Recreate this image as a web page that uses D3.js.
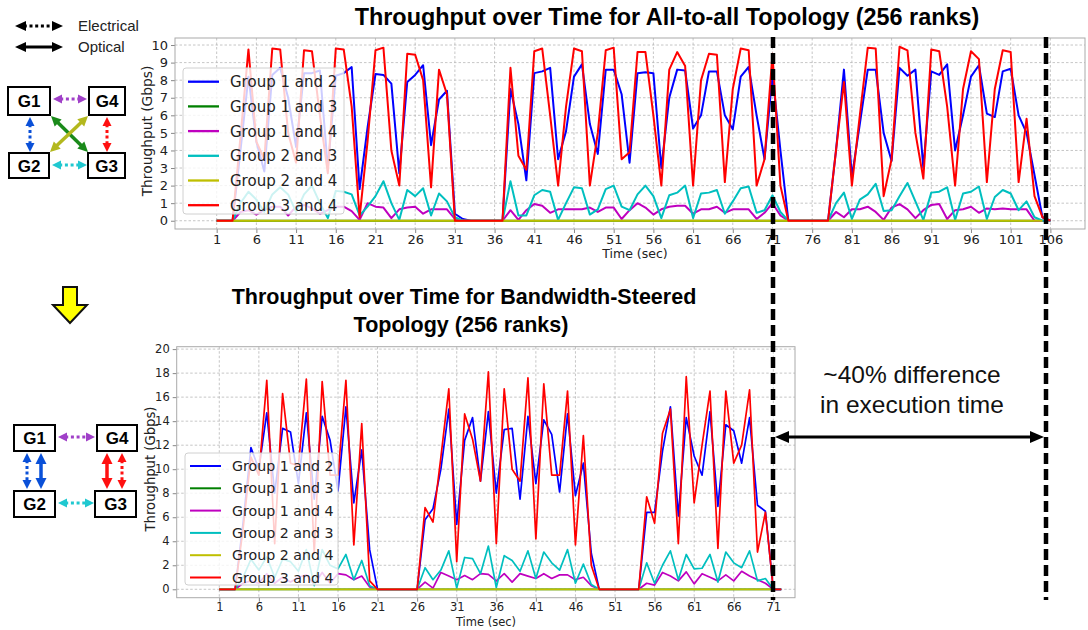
<!DOCTYPE html>
<html><head><meta charset="utf-8">
<script src="https://cdn.jsdelivr.net/npm/d3@7/dist/d3.min.js"></script>
<style>body{margin:0;background:#fff}svg{display:block}</style>
</head><body>
<svg id="c" width="1088" height="630"></svg>
<script>
// ---------------- DATA ----------------
const seriesNames = ["Group 1 and 2","Group 1 and 3","Group 1 and 4","Group 2 and 3","Group 2 and 4","Group 3 and 4"];
const seriesColors = ["#0000ff","#008000","#bf00bf","#00bfbf","#bfbf00","#ff0000"];

// Top chart (All-to-all), t = 1..106
const topG12 = [0,0,0,4.0,8.2,4.5,2.8,8.3,8.7,7.0,4.2,8.4,8.4,8.55,3.0,8.25,8.4,8.75,1.8,5.3,
8.35,8.3,7.8,2.7,7.9,8.3,8.85,4.3,6.9,7.4,0.4,0.1,0,0,0,0,0,7.5,5.5,2.3,
8.4,8.5,8.7,3.5,5.1,8.2,8.9,5.5,3.8,8.6,8.6,7.2,3.3,8.4,8.45,8.4,3.0,7.0,8.6,8.55,
5.25,6.0,8.5,8.5,6.0,5.2,8.2,8.75,6.0,3.5,8.3,4.0,0,0,0,0,0,0,4.0,8.6,
2.5,5.5,8.6,8.6,5.0,3.4,8.7,8.25,8.6,3.0,8.5,8.3,8.9,4.0,6.0,8.2,8.85,6.1,5.9,8.5,
8.65,6.0,5.0,2.6,0.2,0];
const topG13 = [0,0,0,0,0,0,0,0,0,0,0,0,0,0,0,0,0,0,0,0,0,0,0,0,0,0,0,0,0,0,0,0,0,0,0,0,0,0,0,0,
0,0,0,0,0,0,0,0,0,0,0,0,0,0,0,0,0,0,0,0,0,0,0,0,0,0,0,0,0,0,0,0,0,0,0,0,0,0,0,0,
0,0,0,0,0,0,0,0,0,0,0,0,0,0,0,0,0,0,0,0,0,0,0,0,0,0];
const topG14 = [0,0,0,0.5,0.6,0.35,0.6,0.8,0.8,0.3,0.8,0.9,0.7,0.4,0.6,0.8,0.8,0.55,0.05,1.0,
0.8,0.75,0.15,0.65,0.75,0.8,0.4,0.65,0.65,0.65,0.1,0,0,0,0,0,0,0.6,0.05,0.6,
0.95,0.85,0.45,0.65,0.65,0.65,0.65,0.75,0.5,0.75,0.75,0.1,0.6,1.0,0.75,0.35,0.65,0.8,0.85,0.85,
0.4,0.65,0.65,0.8,0.45,0.65,0.65,0.65,0.1,0.45,1.0,0.3,0,0,0,0,0,0,0.5,0.2,
0.65,0.65,0.8,0.5,0.05,0.75,0.95,0.65,0.15,0.6,0.9,0.95,0.1,0.6,0.65,0.8,0.45,0.7,0.65,0.7,
0.65,0.65,0.65,0,0,0];
const topG23 = [0,0,0,1.0,1.65,1.2,0.5,1.5,1.9,1.5,0.5,1.5,2.0,1.0,0.15,1.7,1.65,1.5,0.3,0.8,
1.4,2.25,1.0,0.05,1.75,1.4,1.85,0.3,1.55,1.1,0.2,0,0,0,0,0,0,2.25,0.3,0.3,
1.45,1.75,1.65,0.05,1.0,1.9,1.85,0.35,0.65,1.8,2.0,0.8,0.6,1.5,2.0,1.4,0.15,1.45,1.6,2.0,
0.15,1.55,1.6,1.75,0.4,1.1,1.85,1.95,0.45,0.6,1.45,0.5,0,0,0,0,0,0,1.0,1.6,
0.1,1.2,1.5,2.1,0.55,0.6,1.4,2.15,1.1,0.05,1.6,1.65,1.9,0.05,1.55,1.65,1.95,0.1,1.35,1.75,
1.55,0.6,1.1,0.2,0,0];
const topG24 = [0,0,0,0,0,0,0,0,0,0,0,0,0,0,0,0,0,0,0,0,0,0,0,0,0,0,0,0,0,0,0,0,0,0,0,0,0,0,0,0,
0,0,0,0,0,0,0,0,0,0,0,0,0,0,0,0,0,0,0,0,0,0,0,0,0,0,0,0,0,0,0,0,0,0,0,0,0,0,0,0,
0,0,0,0,0,0,0,0,0,0,0,0,0,0,0,0,0,0,0,0,0,0,0,0,0];
const topG34 = [0,0,0,4.8,9.75,4.5,3.5,9.8,9.75,5.0,3.3,9.7,9.65,6.0,2.7,9.8,9.75,6.5,0.2,4.5,
9.7,9.85,4.0,2.0,9.5,9.45,8.0,1.9,8.6,7.2,0,0,0,0,0,0,0,8.7,3.7,2.9,
9.65,9.8,6.0,2.0,6.5,9.8,9.65,2.0,5.0,9.7,9.85,3.5,3.9,9.6,9.6,6.0,2.0,8.6,9.6,8.8,
2.0,8.0,9.5,9.45,2.2,7.5,9.8,9.7,2.0,3.5,9.5,2.0,0,0,0,0,0,0,4.0,7.9,
2.0,6.0,9.85,9.8,1.4,3.5,9.9,9.7,5.0,2.4,9.75,9.65,6.5,2.0,7.5,9.65,9.2,2.2,7.5,9.7,
9.6,2.2,5.8,1.4,0.2,0];
const topTicksX = [1,6,11,16,21,26,31,36,41,46,51,56,61,66,71,76,81,86,91,96,101,106];
const topTicksY = [0,1,2,3,4,5,6,7,8,9,10];

// Bottom chart (Bandwidth-steered), t = 1..72
const botG12 = [0,0,0,5.5,11.8,10.0,14.7,8.0,13.4,13.1,8.8,14.7,7.5,14.4,12.4,8.2,15.2,7.2,11.6,3.3,
0,0,0,0,0,0,5.8,6.7,10.0,15.0,5.4,12.4,14.3,9.0,14.8,8.0,13.3,13.4,7.5,14.4,
8.8,14.1,12.9,8.1,14.6,7.8,10.5,3.0,0,0,0,0,0,0,6.4,6.4,11.5,15.2,6.1,14.3,
11.1,9.5,14.8,6.9,13.7,13.2,10.5,14.3,7.0,6.5,0,0];
const botG13 = [0,0,0,0,0,0,0,0,0,0,0,0,0,0,0,0,0,0,0,0,0,0,0,0,0,0,0,0,0,0,0,0,0,0,0,0,0,0,0,0,
0,0,0,0,0,0,0,0,0,0,0,0,0,0,0,0,0,0,0,0,0,0,0,0,0,0,0,0,0,0,0,0];
const botG14 = [0,0,0,0.5,0.7,0.5,1.3,0.5,1.0,0.6,1.0,1.2,0.4,1.4,0.5,1.3,1.2,0.8,1.1,0.2,
0,0,0,0,0,0,0.6,0.1,1.4,1.1,0.8,1.15,0.8,1.3,1.25,0.7,1.3,0.6,1.3,1.1,
0.9,1.3,0.9,1.2,1.2,0.8,1.0,0.3,0,0,0,0,0,0,0.5,0.35,1.4,1.1,0.7,1.45,
0.45,1.3,1.0,0.7,1.2,0.7,1.5,1.1,0.8,0.5,0,0];
const botG23 = [0,0,0,1.0,2.5,1.6,2.7,1.0,2.5,2.3,1.5,3.3,0.3,3.3,2.0,1.7,2.9,0.8,2.4,0.3,
0,0,0,0,0,0,1.8,0.8,1.6,3.2,0.1,2.65,2.55,1.3,3.6,0.15,2.8,2.4,1.5,3.2,
0.9,3.1,2.2,1.6,3.3,0.5,2.1,0.4,0,0,0,0,0,0,2.2,0.5,2.0,3.2,0.8,2.9,
1.7,1.75,2.9,0.6,3.1,2.2,1.8,3.2,0.7,0.9,0,0];
const botG24 = [0,0,0,0,0,0,0,0,0,0,0,0,0,0,0,0,0,0,0,0,0,0,0,0,0,0,0,0,0,0,0,0,0,0,0,0,0,0,0,0,
0,0,0,0,0,0,0,0,0,0,0,0,0,0,0,0,0,0,0,0,0,0,0,0,0,0,0,0,0,0,0];
const botG34 = [0,0,0,5.0,11.0,9.5,17.4,3.8,16.3,10.5,10.3,17.5,3.0,17.3,9.5,9.5,17.4,3.7,13.8,0.7,
0,0,0,0,0,0,6.8,5.6,11.0,16.7,2.3,14.6,12.5,9.0,18.1,3.8,16.7,10.0,9.0,17.6,
4.2,17.1,9.5,9.5,16.5,3.7,12.8,2.0,0,0,0,0,0,0,7.7,5.5,13.0,15.0,3.8,17.7,
7.2,12.0,16.5,3.4,16.5,10.5,12.0,16.6,3.1,6.4,0,0];
const botTicksX = [1,6,11,16,21,26,31,36,41,46,51,56,61,66,71];
const botTicksY = [0,2,4,6,8,10,12,14,16,18,20];

const topTitle = "Throughput over Time for All-to-all Topology (256 ranks)";
const botTitle = ["Throughput over Time for Bandwidth-Steered","Topology (256 ranks)"];
const xLabel = "Time (sec)";
const yLabel = "Throughput (Gbps)";
const noteLines = ["~40% difference","in execution time"];

// ---------------- DRAW ----------------
const svg = d3.select("#c");
svg.append("rect").attr("width",1088).attr("height",630).attr("fill","#fff");
const TICKFONT = "DejaVu Sans";

function fitText(sel, target){
  const w = sel.node().getComputedTextLength();
  const fs = parseFloat(sel.attr("font-size"));
  sel.attr("font-size", (fs*target/w).toFixed(2));
}

function chart(cfg){
  const g = svg.append("g");
  const x = d3.scaleLinear().domain(cfg.xd).range([cfg.L, cfg.R]);
  const y = d3.scaleLinear().domain(cfg.yd).range([cfg.B, cfg.T]);
  const id = "clip"+cfg.key;
  svg.append("defs").append("clipPath").attr("id",id)
    .append("rect").attr("x",cfg.L).attr("y",cfg.T).attr("width",cfg.R-cfg.L).attr("height",cfg.B-cfg.T);
  // grid
  g.append("g").selectAll("line").data(cfg.xt).join("line")
    .attr("x1",d=>x(d)).attr("x2",d=>x(d)).attr("y1",cfg.T).attr("y2",cfg.B)
    .attr("stroke","#b8b8b8").attr("stroke-width",0.8).attr("stroke-dasharray","2.5,2");
  g.append("g").selectAll("line").data(cfg.yt).join("line")
    .attr("y1",d=>y(d)).attr("y2",d=>y(d)).attr("x1",cfg.L).attr("x2",cfg.R)
    .attr("stroke","#b8b8b8").attr("stroke-width",0.8).attr("stroke-dasharray","2.5,2");
  // axes
  const ax = g.append("g").attr("transform",`translate(0,${cfg.B})`)
    .call(d3.axisBottom(x).tickValues(cfg.xt).tickSize(4).tickPadding(cfg.xpad).tickFormat(d3.format("d")));
  const ay = g.append("g").attr("transform",`translate(${cfg.L},0)`)
    .call(d3.axisLeft(y).tickValues(cfg.yt).tickSize(4).tickPadding(3).tickFormat(d3.format("d")));
  [ax,ay].forEach(a=>{
    a.select(".domain").remove();
    a.selectAll("line").attr("stroke","#888");
    a.selectAll("text").attr("font-family",TICKFONT).attr("font-size",cfg.tfs).attr("fill","#222");
  });
  // frame
  g.append("rect").attr("x",cfg.L).attr("y",cfg.T).attr("width",cfg.R-cfg.L).attr("height",cfg.B-cfg.T)
    .attr("fill","none").attr("stroke","#aaa").attr("stroke-width",1);
  // lines
  const line = d3.line().x((d,i)=>x(i+1)).y(d=>y(d));
  const lg = g.append("g").attr("clip-path",`url(#${id})`);
  cfg.series.forEach((s,k)=>{
    lg.append("path").attr("d",line(s)).attr("fill","none")
      .attr("stroke",seriesColors[k]).attr("stroke-width",cfg.lw).attr("stroke-linejoin","round");
  });
  // labels
  g.append("text").attr("x",cfg.xlx).attr("y",cfg.xly).attr("text-anchor","middle")
    .attr("font-family",TICKFONT).attr("font-size",cfg.xlfs).attr("fill","#222").text(xLabel);
  g.append("text").attr("transform",`translate(${cfg.ylx},${cfg.yly}) rotate(-90)`).attr("text-anchor","middle")
    .attr("font-family",TICKFONT).attr("font-size",cfg.ylfs).attr("fill","#222").text(yLabel);
  // legend
  const lgd = g.append("g");
  lgd.append("rect").attr("x",cfg.lg.x).attr("y",cfg.lg.y).attr("width",cfg.lg.w).attr("height",cfg.lg.h)
    .attr("rx",3).attr("fill","#fff").attr("fill-opacity",0.8).attr("stroke","#d0d0d0");
  seriesNames.forEach((n,k)=>{
    const yy = cfg.lg.r0 + k*cfg.lg.dr;
    lgd.append("line").attr("x1",cfg.lg.x+5).attr("x2",cfg.lg.x+36).attr("y1",yy).attr("y2",yy)
      .attr("stroke",seriesColors[k]).attr("stroke-width",cfg.lw+0.3);
    lgd.append("text").attr("x",cfg.lg.x+47).attr("y",yy).attr("dy","0.36em")
      .attr("font-family",TICKFONT).attr("font-size",cfg.lg.fs).attr("fill","#222").text(n);
  });
}

chart({key:"top", L:175, R:1085, T:38, B:229, xd:[-4.25,110.36], yd:[-0.47,10.4],
  xt:topTicksX, yt:topTicksY, tfs:13, lw:2, xpad:2,
  series:[topG12,topG13,topG14,topG23,topG24,topG34],
  xlx:635, xly:258, xlfs:12.5, ylx:152, yly:131, ylfs:13.8,
  lg:{x:183,y:68,w:161,h:146,r0:81.7,dr:24.7,fs:15}});

chart({key:"bot", L:176.7, R:795, T:346.7, B:597.7, xd:[-4.38,73.74], yd:[-0.7,20.2],
  xt:botTicksX, yt:botTicksY, tfs:11.5, lw:1.7, xpad:1,
  series:[botG12,botG13,botG14,botG23,botG24,botG34],
  xlx:486, xly:626, xlfs:11.5, ylx:155, yly:469, ylfs:13.2,
  lg:{x:185,y:453,w:153,h:132,r0:466,dr:22.3,fs:14.2}});

// titles
const t1 = svg.append("text").attr("x",667).attr("y",25).attr("text-anchor","middle")
  .attr("font-family","Liberation Sans, Arial, sans-serif").attr("font-weight","bold").attr("font-size",20).text(topTitle);
fitText(t1,625);
const b1 = svg.append("text").attr("x",464).attr("y",304).attr("text-anchor","middle")
  .attr("font-family","Liberation Sans, Arial, sans-serif").attr("font-weight","bold").attr("font-size",20).text(botTitle[0]);
fitText(b1,465);
svg.append("text").attr("x",461).attr("y",332).attr("text-anchor","middle")
  .attr("font-family","Liberation Sans, Arial, sans-serif").attr("font-weight","bold").attr("font-size",b1.attr("font-size")).text(botTitle[1]);

// annotation
noteLines.forEach((s,i)=>{
  svg.append("text").attr("x",912).attr("y",383+i*30).attr("text-anchor","middle")
    .attr("font-family","Liberation Sans, Arial, sans-serif").attr("font-size",24.5).attr("fill","#111").text(s);
});

// arrows helper
function arrow(g,x1,y1,x2,y2,color,dotted,w,hl,hw,twoHeads=true){
  const dx=x2-x1, dy=y2-y1, L=Math.hypot(dx,dy), ux=dx/L, uy=dy/L, px=-uy, py=ux;
  const sx = x1 + (twoHeads?ux*hl*0.8:0), sy = y1 + (twoHeads?uy*hl*0.8:0);
  const ex = x2 - ux*hl*0.8, ey = y2 - uy*hl*0.8;
  g.append("line").attr("x1",sx).attr("y1",sy).attr("x2",ex).attr("y2",ey)
    .attr("stroke",color).attr("stroke-width",w).attr("stroke-dasharray",dotted?`${w},${w*0.9}`:null);
  const head=(tx,ty,dir)=>{
    const bx=tx-dir*ux*hl, by=ty-dir*uy*hl;
    g.append("polygon").attr("points",`${tx},${ty} ${bx+px*hw/2},${by+py*hw/2} ${bx-px*hw/2},${by-py*hw/2}`).attr("fill",color);
  };
  head(x2,y2,1);
  if(twoHeads) head(x1,y1,-1);
}

// dashed vertical lines + span arrow
const ov = svg.append("g");
[773,1046].forEach(xx=>{
  ov.append("line").attr("x1",xx).attr("x2",xx).attr("y1",37).attr("y2",600)
    .attr("stroke","#000").attr("stroke-width",4.5).attr("stroke-dasharray","11,5");
});
arrow(ov,775,437,1044,437,"#000",false,3.2,14,12);

// left diagrams
const dg = svg.append("g");
function box(x,y,w,h,label){
  dg.append("rect").attr("x",x).attr("y",y).attr("width",w).attr("height",h).attr("fill","#fff").attr("stroke","#000").attr("stroke-width",2);
  dg.append("text").attr("x",x+w/2).attr("y",y+h/2).attr("dy","0.36em").attr("text-anchor","middle")
    .attr("font-family","Liberation Sans, Arial, sans-serif").attr("font-weight","bold").attr("font-size",17).text(label);
}
// key
arrow(dg,15,26,63,26,"#000",true,3,11,10);
arrow(dg,15,47,63,47,"#000",false,3,11,10);
dg.append("text").attr("x",78).attr("y",31).attr("font-family","Liberation Sans, Arial, sans-serif").attr("font-size",15).attr("fill","#222").text("Electrical");
dg.append("text").attr("x",78).attr("y",52).attr("font-family","Liberation Sans, Arial, sans-serif").attr("font-size",15).attr("fill","#222").text("Optical");
// top diagram
arrow(dg,51,116,88,152,"#1a8a1a",false,3.5,10,10);
arrow(dg,50,152,88,116,"#b3b81e",false,3.5,10,10);
arrow(dg,53,99,87,99,"#a040c8",true,3,9,9);
arrow(dg,30,117,30,152,"#0a50d8",true,3,9,9);
arrow(dg,107,117,107,152,"#ff1010",true,3,9,9);
arrow(dg,52,165,87,165,"#20c8d0",true,3,9,9);
box(8,87,42,28,"G1"); box(89,87,36,28,"G4"); box(9,153,40,25,"G2"); box(88,153,37,25,"G3");
// yellow arrow
dg.append("polygon").attr("points","63,287 77,287 77,305 87,305 70,323 53,305 63,305")
  .attr("fill","#ffff00").attr("stroke","#111").attr("stroke-width",2).attr("stroke-linejoin","miter");
// bottom diagram
arrow(dg,58,437,95,437,"#a040c8",true,3,9,9);
arrow(dg,58,503,94,503,"#20c8d0",true,3,9,9);
arrow(dg,27,453,27,489,"#0a50d8",true,3,9,9);
arrow(dg,41,453,41,489,"#0a50d8",false,3.5,11,11);
arrow(dg,107,453,107,489,"#ff1010",false,3.5,11,11);
arrow(dg,122,453,122,489,"#ff1010",true,3,9,9);
box(14,425,41,26,"G1"); box(97,425,40,26,"G4"); box(14,491,41,26,"G2"); box(95,491,41,26,"G3");
</script>
</body></html>
